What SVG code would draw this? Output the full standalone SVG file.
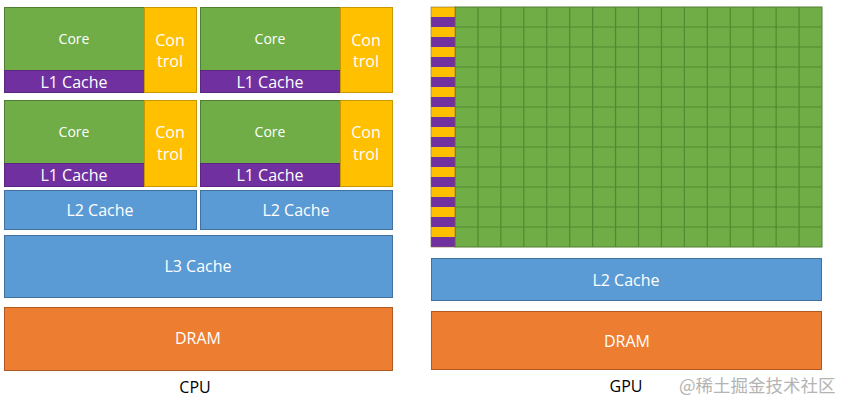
<svg xmlns="http://www.w3.org/2000/svg" width="843" height="406" viewBox="0 0 843 406">
<style>
.g{fill:#70AD47;stroke:#507E32;stroke-width:1}
.p{fill:#7030A0;stroke:#5A2680;stroke-width:1}
.y{fill:#FFC000;stroke:#C99800;stroke-width:1}
.b{fill:#5B9BD5;stroke:#41719C;stroke-width:1}
.o{fill:#ED7D31;stroke:#AE5A21;stroke-width:1}
text{font-family:"Open Sans","Liberation Sans",sans-serif;text-anchor:middle}
.w{fill:#FFFFFF;font-size:16px}
.ws{fill:#FFFFFF;font-size:14px}
.k{fill:#000000;font-size:16px}
.wm{fill:#B4B4B4;font-size:17.5px;font-family:"Noto Sans CJK SC",sans-serif;text-anchor:start}
</style>
<rect width="843" height="406" fill="#FFFFFF"/>
<g id="cpu-core1">
<rect class="g" x="4.5" y="7.5" width="140" height="63"/>
<rect class="p" x="4.5" y="70.5" width="140" height="22"/>
<rect class="y" x="144.5" y="7.5" width="52" height="85"/>
<text class="ws" x="74" y="44">Core</text>
<text class="w" x="74" y="88">L1 Cache</text>
<text class="w" x="170" y="46">Con</text>
<text class="w" x="170" y="67">trol</text>
</g>
<g id="cpu-core2">
<rect class="g" x="200.5" y="7.5" width="140" height="63"/>
<rect class="p" x="200.5" y="70.5" width="140" height="22"/>
<rect class="y" x="340.5" y="7.5" width="52" height="85"/>
<text class="ws" x="270" y="44">Core</text>
<text class="w" x="270" y="88">L1 Cache</text>
<text class="w" x="366" y="46">Con</text>
<text class="w" x="366" y="67">trol</text>
</g>
<g id="cpu-core3">
<rect class="g" x="4.5" y="100.5" width="140" height="63"/>
<rect class="p" x="4.5" y="163.5" width="140" height="23"/>
<rect class="y" x="144.5" y="100.5" width="52" height="86"/>
<text class="ws" x="74" y="137">Core</text>
<text class="w" x="74" y="181">L1 Cache</text>
<text class="w" x="170" y="138">Con</text>
<text class="w" x="170" y="160">trol</text>
</g>
<g id="cpu-core4">
<rect class="g" x="200.5" y="100.5" width="140" height="63"/>
<rect class="p" x="200.5" y="163.5" width="140" height="23"/>
<rect class="y" x="340.5" y="100.5" width="52" height="86"/>
<text class="ws" x="270" y="137">Core</text>
<text class="w" x="270" y="181">L1 Cache</text>
<text class="w" x="366" y="138">Con</text>
<text class="w" x="366" y="160">trol</text>
</g>
<g id="cpu-l2-left">
<rect class="b" x="4.5" y="190.5" width="192" height="39"/>
<text class="w" x="100" y="216">L2 Cache</text>
</g>
<g id="cpu-l2-right">
<rect class="b" x="200.5" y="190.5" width="192" height="39"/>
<text class="w" x="296" y="216">L2 Cache</text>
</g>
<g id="cpu-l3">
<rect class="b" x="4.5" y="235.5" width="388" height="62"/>
<text class="w" x="198" y="272">L3 Cache</text>
</g>
<g id="cpu-dram">
<rect class="o" x="4.5" y="307.5" width="388" height="63"/>
<text class="w" x="198" y="344">DRAM</text>
</g>
<g id="cpu-label"><text class="k" x="195" y="393">CPU</text></g>
<g id="gpu-cores">
<rect class="g" x="455" y="7" width="367" height="240" stroke="#548235"/>
<path d="M477.94 7V247M500.88 7V247M523.81 7V247M546.75 7V247M569.69 7V247M592.63 7V247M615.56 7V247M638.5 7V247M661.44 7V247M684.38 7V247M707.31 7V247M730.25 7V247M753.19 7V247M776.13 7V247M799.06 7V247M455 27H822M455 47H822M455 67H822M455 87H822M455 107H822M455 127H822M455 147H822M455 167H822M455 187H822M455 207H822M455 227H822" stroke="#52892F" stroke-width="1.2" fill="none"/>
</g>
<g id="gpu-control-cache">
<rect fill="#FFC000" x="431" y="7" width="24" height="240"/>
<path fill="#7030A0" d="M431 17h24v10h-24zM431 37h24v10h-24zM431 57h24v10h-24zM431 77h24v10h-24zM431 97h24v10h-24zM431 117h24v10h-24zM431 137h24v10h-24zM431 157h24v10h-24zM431 177h24v10h-24zM431 197h24v10h-24zM431 217h24v10h-24zM431 237h24v10h-24z"/>
<rect x="431" y="7" width="24" height="240" fill="none" stroke="#7F6A3A" stroke-width="0.6"/>
</g>
<g id="gpu-l2">
<rect class="b" x="431.5" y="258.5" width="390" height="42"/>
<text class="w" x="626" y="286">L2 Cache</text>
</g>
<g id="gpu-dram">
<rect class="o" x="431.5" y="311.5" width="390" height="58"/>
<text class="w" x="627" y="347">DRAM</text>
</g>
<g id="gpu-label"><text class="k" x="626" y="392">GPU</text></g>
<text class="wm" x="679" y="392">@稀土掘金技术社区</text>
</svg>
